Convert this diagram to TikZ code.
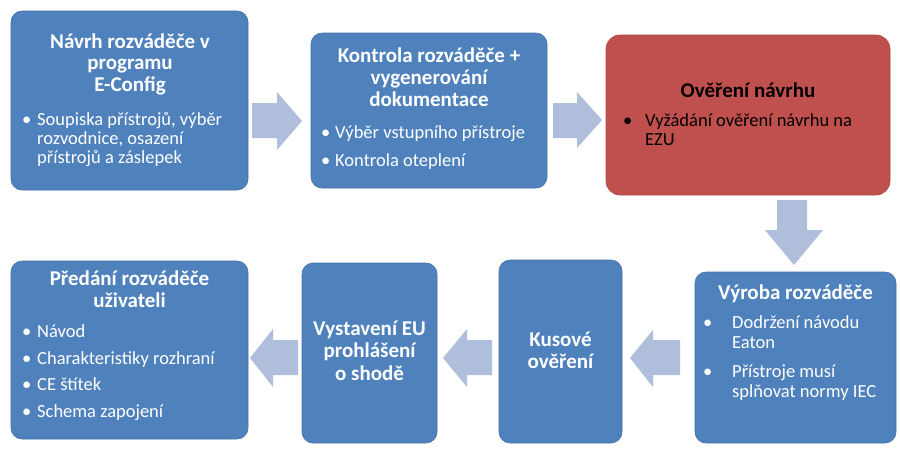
\documentclass[tikz,border=0pt]{standalone}
\usepackage{fontspec}
\setmainfont{Carlito}
\usetikzlibrary{fit}
\definecolor{boxblue}{HTML}{4F81BD}
\definecolor{boxred}{HTML}{C0504D}
\definecolor{arrowblue}{HTML}{AEBEDB}
\begin{document}
\begin{tikzpicture}[x=1pt,y=-1pt,
  box/.style={fill=boxblue, draw=boxblue!88!black, line width=0.6pt, rounded corners=11pt, inner sep=0pt},
  redbox/.style={fill=boxred, draw=boxred!88!black, line width=0.6pt, rounded corners=14pt, inner sep=0pt},
  ttl/.style={font=\fontsize{21}{21.5}\selectfont\bfseries, text=white, align=center, anchor=base, inner sep=0pt},
  itm/.style={font=\fontsize{18.5}{19}\selectfont, text=white, align=left, anchor=base west, inner sep=0pt},
  bdot/.style={font=\fontsize{18.5}{19}\selectfont, text=white, anchor=base west, inner sep=0pt},
  blockarrow/.style={fill=arrowblue, draw=none}
]
\useasboundingbox (0,0) rectangle (900,451);
\fill[white] (0,0) rectangle (900,451);

% boxes
\node[box, fit={(11,11) (248,190)}] (b1) {};
\node[box, fit={(311,33) (547,188)}] (b2) {};
\node[redbox, fit={(606,35) (890,195)}] (b3) {};
\node[box, fit={(695,272) (896,443)}] (b4) {};
\node[box, fit={(499,260) (622,443)}] (b5) {};
\node[box, fit={(302,263) (437,443)}] (b6) {};
\node[box, fit={(11,261) (248,439)}] (b7) {};

% block arrows
\fill[blockarrow] (252,103)--(277,103)--(277,92)--(302,121)--(277,150)--(277,138)--(252,138)--cycle;
\fill[blockarrow] (553,103)--(577,103)--(577,92)--(602,120)--(577,148)--(577,138)--(553,138)--cycle;
\fill[blockarrow] (777,200)--(807,200)--(807,230)--(823,230)--(794,265)--(765,230)--(777,230)--cycle;
\fill[blockarrow] (680,340)--(653,340)--(653,330)--(630,358)--(653,387)--(653,375)--(680,375)--cycle;
\fill[blockarrow] (492,340)--(467,340)--(467,329)--(443,358)--(467,387)--(467,375)--(492,375)--cycle;
\fill[blockarrow] (298,340)--(273,340)--(273,329)--(250,358)--(273,387)--(273,375)--(298,375)--cycle;

% box 1 (anchor base = last line's baseline)
\node[ttl] (t1) at (130,91) {Návrh rozváděče v\\programu\\E-Config};
\node[bdot] (d11) at (22,125) {•};
\node[itm] (i11) at (37,163) {Soupiska přístrojů, výběr\\rozvodnice, osazení\\přístrojů a záslepek};

% box 2
\node[ttl, font=\fontsize{21}{22}\selectfont\bfseries] (t2) at (429,106.5) {Kontrola rozváděče +\\vygenerování\\dokumentace};
\node[bdot] (d21) at (321,138) {•};
\node[itm] (i21) at (335,138) {Výběr vstupního přístroje};
\node[bdot] (d22) at (321,166) {•};
\node[itm] (i22) at (335,166) {Kontrola oteplení};

% box 3
\node[ttl, text=black] (t3) at (748,97) {Ověření návrhu};
\node[bdot, text=black] (d31) at (623,126) {•};
\node[itm, text=black] (i31) at (645,145) {Vyžádání ověření návrhu na\\EZU};

% box 4
\node[ttl] (t4) at (795.5,299) {Výroba rozváděče};
\node[bdot] (d41) at (703,328) {•};
\node[itm, font=\fontsize{18.5}{20.5}\selectfont] (i41) at (732,348.5) {Dodržení návodu\\Eaton};
\node[bdot] (d42) at (703,377) {•};
\node[itm, font=\fontsize{18.5}{20.5}\selectfont] (i42) at (732,397.5) {Přístroje musí\\splňovat normy IEC};

% box 5
\node[ttl, font=\fontsize{21}{22}\selectfont\bfseries] (t5) at (560.5,368) {Kusové\\ověření};

% box 6
\node[ttl, font=\fontsize{21}{22.5}\selectfont\bfseries] (t6) at (369.5,380) {Vystavení EU\\prohlášení\\o shodě};

% box 7
\node[ttl, font=\fontsize{21}{22}\selectfont\bfseries] (t7) at (129.5,307) {Předání rozváděče\\uživateli};
\node[bdot] (d71) at (22,337) {•};
\node[itm] (i71) at (37,337) {Návod};
\node[bdot] (d72) at (22,364) {•};
\node[itm] (i72) at (37,364) {Charakteristiky rozhraní};
\node[bdot] (d73) at (22,390) {•};
\node[itm] (i73) at (37,390) {CE štítek};
\node[bdot] (d74) at (22,417) {•};
\node[itm] (i74) at (37,417) {Schema zapojení};
\end{tikzpicture}
\end{document}
